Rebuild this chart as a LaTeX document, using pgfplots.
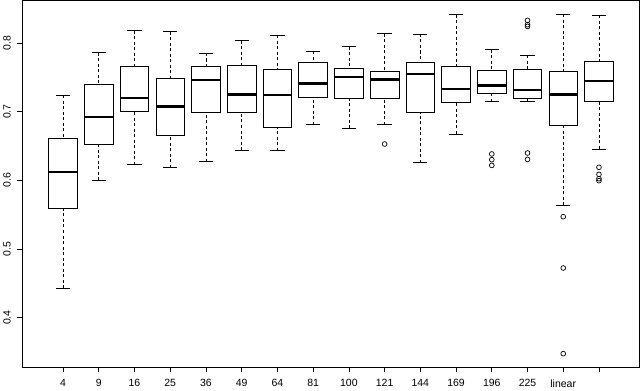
\documentclass[border=0pt]{standalone}
\usepackage{pgfplots}
\pgfplotsset{compat=1.18}
\usepgfplotslibrary{statistics}
\usepackage{fontspec}
\setmainfont{Liberation Sans}
\pgfplotsset{
  rbox/.style={black, line width=0.7pt, mark=o, mark size=2.4pt, mark options={solid, line width=0.7pt}},
}
\begin{document}
\begin{tikzpicture}
\begin{axis}[
  width=616bp, height=366bp, scale only axis,
  xmin=-0.14, xmax=17.14, ymin=0.328, ymax=0.862,
  xtick={1,...,16},
  xticklabels={4,9,16,25,36,49,64,81,100,121,144,169,196,225,linear,{}},
  ytick={0.4,0.5,0.6,0.7,0.8},
  yticklabels={0.4,0.5,0.6,0.7,0.8},
  tick align=outside, tick pos=left,
  major tick length=5bp,
  tick style={black, line width=0.6pt},
  axis line style={black, line width=0.6pt},
  ticklabel style={font=\fontsize{10.5}{12}\selectfont},
  xticklabel shift=4bp,
  yticklabel shift=3bp,
  yticklabel style={rotate=90, anchor=south},
  boxplot/draw direction=y,
  boxplot/box extend=0.8,
  boxplot/whisker extend=0.4,
  boxplot/every median/.style={line width=2.3pt},
  boxplot/draw/lower whisker/.code={%
    \draw[dash pattern=on 3bp off 2.5bp]
      (boxplot box cs:\pgfplotsboxplotvalue{lower whisker},0.5) --
      (boxplot box cs:\pgfplotsboxplotvalue{lower quartile},0.5);
    \draw (boxplot whisker cs:\pgfplotsboxplotvalue{lower whisker},0) --
      (boxplot whisker cs:\pgfplotsboxplotvalue{lower whisker},1);
  },
  boxplot/draw/upper whisker/.code={%
    \draw[dash pattern=on 3bp off 2.5bp]
      (boxplot box cs:\pgfplotsboxplotvalue{upper whisker},0.5) --
      (boxplot box cs:\pgfplotsboxplotvalue{upper quartile},0.5);
    \draw (boxplot whisker cs:\pgfplotsboxplotvalue{upper whisker},0) --
      (boxplot whisker cs:\pgfplotsboxplotvalue{upper whisker},1);
  },
]
\addplot[rbox, boxplot prepared={draw position=1, lower whisker=0.443, lower quartile=0.559, median=0.612, upper quartile=0.6606, upper whisker=0.7236}] coordinates {};
\addplot[rbox, boxplot prepared={draw position=2, lower whisker=0.600, lower quartile=0.6528, median=0.6926, upper quartile=0.739, upper whisker=0.786}] coordinates {};
\addplot[rbox, boxplot prepared={draw position=3, lower whisker=0.6227, lower quartile=0.7008, median=0.7202, upper quartile=0.7653, upper whisker=0.818}] coordinates {};
\addplot[rbox, boxplot prepared={draw position=4, lower whisker=0.6183, lower quartile=0.6654, median=0.7076, upper quartile=0.7479, upper whisker=0.8163}] coordinates {};
\addplot[rbox, boxplot prepared={draw position=5, lower whisker=0.627, lower quartile=0.6994, median=0.7464, upper quartile=0.7653, upper whisker=0.7853}] coordinates {};
\addplot[rbox, boxplot prepared={draw position=6, lower whisker=0.644, lower quartile=0.6989, median=0.725, upper quartile=0.7673, upper whisker=0.8032}] coordinates {};
\addplot[rbox, boxplot prepared={draw position=7, lower whisker=0.643, lower quartile=0.677, median=0.7246, upper quartile=0.7614, upper whisker=0.811}] coordinates {};
\addplot[rbox, boxplot prepared={draw position=8, lower whisker=0.681, lower quartile=0.7207, median=0.741, upper quartile=0.771, upper whisker=0.7876}] coordinates {};
\addplot[rbox, boxplot prepared={draw position=9, lower whisker=0.676, lower quartile=0.7198, median=0.7504, upper quartile=0.7635, upper whisker=0.7945}] coordinates {};
\addplot[rbox, boxplot prepared={draw position=10, lower whisker=0.681, lower quartile=0.7188, median=0.7469, upper quartile=0.759, upper whisker=0.8134}] table[row sep=\\, y index=0] {0.6528\\};
\addplot[rbox, boxplot prepared={draw position=11, lower whisker=0.6256, lower quartile=0.6984, median=0.7552, upper quartile=0.7722, upper whisker=0.813}] coordinates {};
\addplot[rbox, boxplot prepared={draw position=12, lower whisker=0.6674, lower quartile=0.714, median=0.7329, upper quartile=0.7658, upper whisker=0.841}] coordinates {};
\addplot[rbox, boxplot prepared={draw position=13, lower whisker=0.7144, lower quartile=0.727, median=0.7381, upper quartile=0.7606, upper whisker=0.790}] table[row sep=\\, y index=0] {0.6383\\0.630\\0.6217\\};
\addplot[rbox, boxplot prepared={draw position=14, lower whisker=0.7149, lower quartile=0.7193, median=0.7319, upper quartile=0.761, upper whisker=0.7818}] table[row sep=\\, y index=0] {0.8328\\0.8265\\0.824\\0.6397\\0.6304\\};
\addplot[rbox, boxplot prepared={draw position=15, lower whisker=0.5635, lower quartile=0.680, median=0.725, upper quartile=0.7589, upper whisker=0.842}] table[row sep=\\, y index=0] {0.547\\0.4723\\0.3476\\};
\addplot[rbox, boxplot prepared={draw position=16, lower whisker=0.6456, lower quartile=0.7154, median=0.745, upper quartile=0.7737, upper whisker=0.8406}] table[row sep=\\, y index=0] {0.6188\\0.6086\\0.6023\\0.5994\\};
\end{axis}
\end{tikzpicture}
\end{document}
